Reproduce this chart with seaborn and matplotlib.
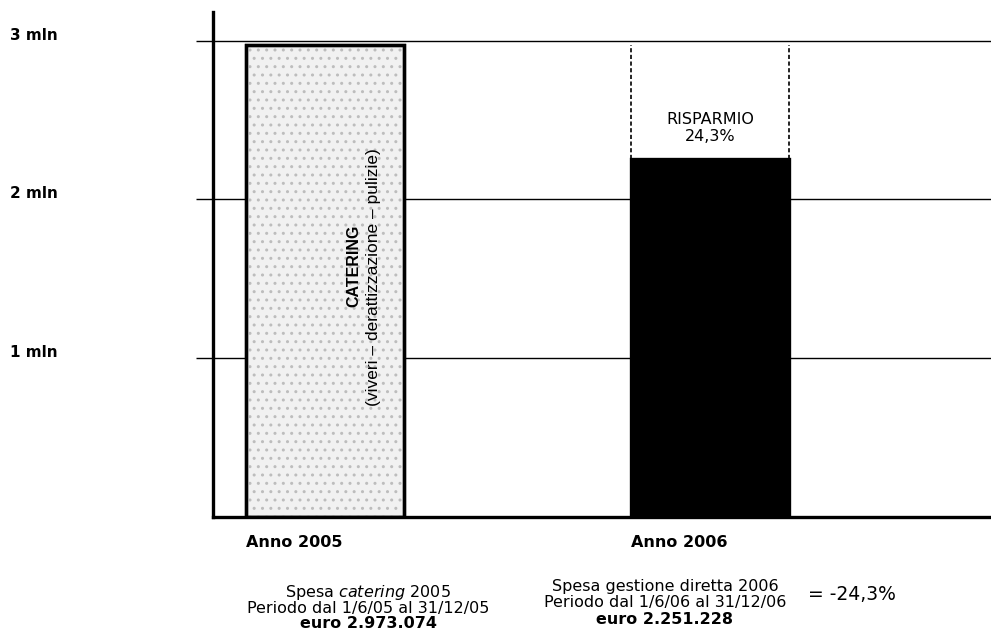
import numpy as np
import pandas as pd
import matplotlib.pyplot as plt
import matplotlib.transforms as mtransforms
import seaborn as sns

# dati
anni = ["Anno 2005", "Anno 2006"]
spesa = [2973074, 2251228]
colori = ["#f1f1f1", "#000000"]
tick_valori = [1000000, 2000000, 3000000]
tick_etichette = ["1 mln", "2 mln", "3 mln"]
risparmio = "RISPARMIO\n24,3%"
righe_2005 = [r"Spesa $\it{catering}$ 2005", "Periodo dal 1/6/05 al 31/12/05", "euro 2.973.074"]
righe_2006 = ["Spesa gestione diretta 2006", "Periodo dal 1/6/06 al 31/12/06", "euro 2.251.228"]
differenza = "= -24,3%"

sns.set_style("white")
plt.rcParams['font.family'] = ['DejaVu Sans']
plt.rcParams['text.color'] = 'black'
plt.rcParams['xtick.color'] = 'black'
plt.rcParams['ytick.color'] = 'black'
plt.rcParams['axes.labelcolor'] = 'black'

W, H = 991, 635
fig = plt.figure(figsize=(W / 100, H / 100), dpi=100)
ax = fig.add_axes([213 / W, 118 / H, 778 / W, 505 / H])

df = pd.DataFrame({"anno": anni, "spesa": spesa})
sns.barplot(data=df, x="anno", y="spesa", hue="anno", palette=colori, legend=False,
            width=0.41, saturation=1, edgecolor="black", linewidth=2.4, ax=ax, zorder=2)

# puntinato sulla barra 2005
p0 = ax.patches[0]
ax.bar(p0.get_x() + p0.get_width() / 2, p0.get_height(), width=p0.get_width(),
       color="none", edgecolor="#bdbdbd", hatch="..", linewidth=0, zorder=2.1)
ax.bar(p0.get_x() + p0.get_width() / 2, p0.get_height(), width=p0.get_width(),
       fill=False, edgecolor="black", linewidth=2.4, zorder=2.2)

# risparmio tratteggiato sulla barra 2006
p1 = ax.patches[1]
ax.vlines([p1.get_x(), p1.get_x() + p1.get_width()], spesa[1], spesa[0],
          colors="black", linestyles=(0, (2.5, 1.5)), linewidth=1.2, zorder=2)
ax.text(p1.get_x() + p1.get_width() / 2, 2.45e6, risparmio, ha="center", va="center",
        fontsize=11.5, linespacing=1.15)

# testo verticale nella barra 2005
ax.text(0.077, 1.58e6, "CATERING", rotation=90, ha="center", va="center",
        fontsize=11.5, fontweight="bold", family="Liberation Sans", zorder=3)
ax.text(0.128, 1.51e6, "(viveri \u2013 derattizzazione \u2013 pulizie)", rotation=90,
        ha="center", va="center", fontsize=12.5, family="Liberation Sans", zorder=3)

ax.set_xlim(-0.29, 1.73)
ax.set_ylim(0, 3.18e6)
ax.set_yticks(tick_valori, tick_etichette)
ax.yaxis.grid(True, color="black", linewidth=1)
ax.set_axisbelow(True)
ax.set_xlabel("")
ax.set_ylabel("")

sns.despine(ax=ax, top=True, right=True)
for s in ["left", "bottom"]:
    ax.spines[s].set_color("black")
    ax.spines[s].set_linewidth(2.4)

ax.tick_params(axis="y", left=True, length=12, width=1, color="black", pad=134, labelsize=11)
ax.tick_params(axis="x", bottom=False, length=0, pad=13, labelsize=11.5)
for lab in ax.get_yticklabels():
    lab.set_ha("left")
    lab.set_fontweight("bold")
    lab.set_transform(lab.get_transform() + mtransforms.ScaledTranslation(0, 5 / 72, fig.dpi_scale_trans))
for lab in ax.get_xticklabels():
    lab.set_fontweight("bold")
    lab.set_transform(lab.get_transform() + mtransforms.ScaledTranslation(-22 / 72, 0, fig.dpi_scale_trans))

# didascalie sotto il grafico
for testi, cx, ys in [(righe_2005, 368, [592, 608, 624]), (righe_2006, 665, [586, 602, 619])]:
    for i, (t, y) in enumerate(zip(testi, ys)):
        fig.text(cx / W, 1 - y / H, t, ha="center", va="center", fontsize=11.5,
                 fontweight="bold" if i == 2 else "normal")
fig.text(852 / W, 1 - 594 / H, differenza, ha="center", va="center", fontsize=13.5)

fig.savefig("out.png", dpi=100)
